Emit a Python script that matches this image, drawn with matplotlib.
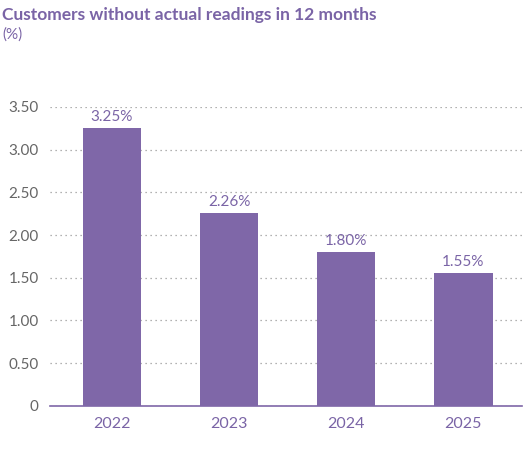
import matplotlib
matplotlib.use("Agg")
import matplotlib.pyplot as plt

years = ["2022", "2023", "2024", "2025"]
values = [3.25, 2.26, 1.80, 1.55]
yticks = [0, 0.5, 1.0, 1.5, 2.0, 2.5, 3.0, 3.5]
ytick_labels = ["0", "0.50", "1.00", "1.50", "2.00", "2.50", "3.00", "3.50"]

purple = "#7f67a8"
text_purple = "#7a64a6"
plt.rcParams["font.family"] = ["Lato", "DejaVu Sans"]

fig = plt.figure(figsize=(5.26, 4.49), dpi=100)
ax = fig.add_axes([0.095, 0.096, 0.897, 0.666])

x = list(range(len(years)))
ax.bar(x, values, width=0.5, color=purple, zorder=3)
for xi, v in zip(x, values):
    ax.text(xi, v + 0.05, f"{v:.2f}%", ha="center", va="bottom",
            fontsize=11, color=text_purple)

ax.set_xlim(-0.53, 3.5)
ax.set_ylim(0, 3.5)
ax.set_xticks(x)
ax.set_xticklabels(years, fontsize=11.5, color=text_purple)
ax.set_yticks(yticks)
ax.set_yticklabels(ytick_labels, fontsize=11, color="#666666")
ax.tick_params(axis="both", length=0, pad=8)
ax.yaxis.grid(True, linestyle=(0, (1, 3)), color="#999999", linewidth=0.9, zorder=0)
for side in ["top", "right", "left"]:
    ax.spines[side].set_visible(False)
ax.spines["bottom"].set_color(purple)
ax.spines["bottom"].set_linewidth(1.2)
ax.spines["bottom"].set_zorder(4)

fig.text(0.004, 0.985, "Customers without actual readings in 12 months",
         fontsize=12.5, fontweight="bold", color=text_purple, va="top")
fig.text(0.004, 0.94, "(%)", fontsize=11, color=text_purple, va="top")

fig.savefig("out.png", dpi=100)
